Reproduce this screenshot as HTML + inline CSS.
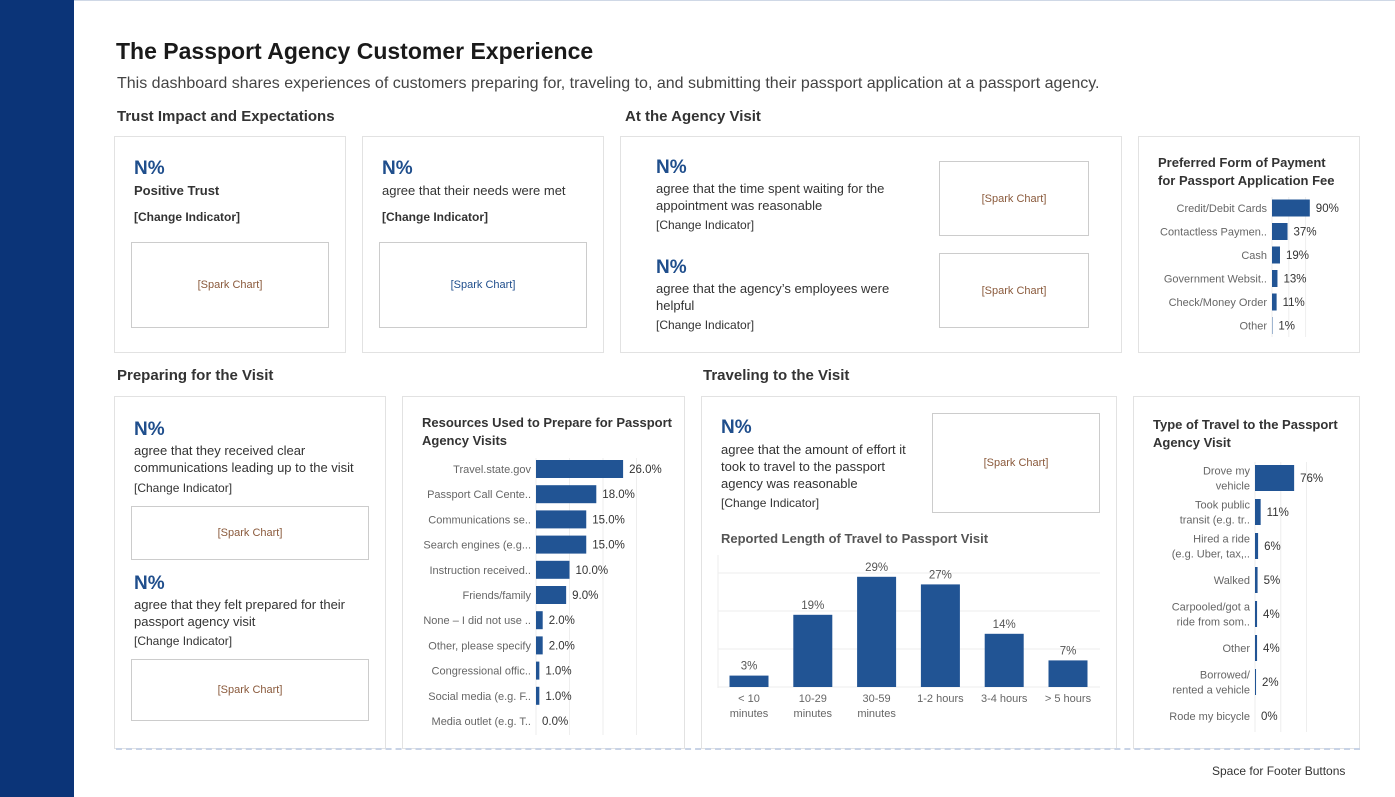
<!DOCTYPE html>
<html><head><meta charset="utf-8"><style>
*{box-sizing:border-box;margin:0;padding:0}
body{width:1395px;height:797px;background:#fff;font-family:"Liberation Sans",sans-serif;position:relative;overflow:hidden;color:#333}
.abs{position:absolute}
.card{position:absolute;border:1px solid #e2e2e2;background:#fff}
.sec{position:absolute;font-size:15px;font-weight:bold;color:#333}
.big{position:absolute;font-size:19px;font-weight:bold;color:#1f4e8c}
.txt{position:absolute;font-size:13px;color:#333;line-height:17px}
.ci{position:absolute;font-size:12px;color:#333}
.spark{position:absolute;border:1px solid #ccc;font-size:11px;color:#8a5a3c;display:flex;align-items:center;justify-content:center}
.ctitle{position:absolute;font-size:13px;font-weight:bold;color:#333;line-height:18px}
svg text{font-family:"Liberation Sans",sans-serif}
#paySvg{z-index:5;pointer-events:none}
</style></head><body>
<div class="abs" style="left:0;top:0;width:74px;height:797px;background:#0b3478"></div>
<div class="abs" style="left:74px;top:0;width:1321px;height:1px;background:#cfd8e6"></div>
<div class="abs" style="left:116px;top:38px;font-size:23px;font-weight:bold;color:#1a1a1a">The Passport Agency Customer Experience</div>
<div class="abs" style="left:117px;top:75px;font-size:16px;color:#444">This dashboard shares experiences of customers preparing for, traveling to, and submitting their passport application at a passport agency.</div>

<div class="sec" style="left:117px;top:108px">Trust Impact and Expectations</div>
<div class="sec" style="left:625px;top:108px">At the Agency Visit</div>
<div class="sec" style="left:117px;top:367px">Preparing for the Visit</div>
<div class="sec" style="left:703px;top:367px">Traveling to the Visit</div>

<div class="card" style="left:114px;top:136px;width:232px;height:217px"></div>
<div class="big" style="left:134px;top:158px">N%</div>
<div class="txt" style="left:134px;top:182px;font-weight:bold">Positive Trust</div>
<div class="ci" style="left:134px;top:210px;font-weight:bold">[Change Indicator]</div>
<div class="spark" style="left:131px;top:242px;width:198px;height:86px">[Spark Chart]</div>

<div class="card" style="left:362px;top:136px;width:242px;height:217px"></div>
<div class="big" style="left:382px;top:158px">N%</div>
<div class="txt" style="left:382px;top:182px">agree that their needs were met</div>
<div class="ci" style="left:382px;top:210px;font-weight:bold">[Change Indicator]</div>
<div class="spark" style="left:379px;top:242px;width:208px;height:86px;color:#1f4e8c">[Spark Chart]</div>

<div class="card" style="left:620px;top:136px;width:502px;height:217px"></div>
<div class="big" style="left:656px;top:157px">N%</div>
<div class="txt" style="left:656px;top:180px;width:270px">agree that the time spent waiting for the appointment was reasonable</div>
<div class="ci" style="left:656px;top:218px">[Change Indicator]</div>
<div class="spark" style="left:939px;top:161px;width:150px;height:75px">[Spark Chart]</div>
<div class="big" style="left:656px;top:257px">N%</div>
<div class="txt" style="left:656px;top:280px;width:270px">agree that the agency’s employees were helpful</div>
<div class="ci" style="left:656px;top:318px">[Change Indicator]</div>
<div class="spark" style="left:939px;top:253px;width:150px;height:75px">[Spark Chart]</div>

<div class="card" style="left:1138px;top:136px;width:222px;height:217px"></div>
<div class="ctitle" style="left:1158px;top:154px">Preferred Form of Payment<br>for Passport Application Fee</div>

<div class="card" style="left:114px;top:396px;width:272px;height:353px"></div>
<div class="big" style="left:134px;top:419px">N%</div>
<div class="txt" style="left:134px;top:442px;width:240px">agree that they received clear communications leading up to the visit</div>
<div class="ci" style="left:134px;top:481px">[Change Indicator]</div>
<div class="spark" style="left:131px;top:506px;width:238px;height:54px">[Spark Chart]</div>
<div class="big" style="left:134px;top:573px">N%</div>
<div class="txt" style="left:134px;top:596px;width:240px">agree that they felt prepared for their passport agency visit</div>
<div class="ci" style="left:134px;top:634px">[Change Indicator]</div>
<div class="spark" style="left:131px;top:659px;width:238px;height:62px">[Spark Chart]</div>

<div class="card" style="left:402px;top:396px;width:283px;height:353px"></div>
<div class="ctitle" style="left:422px;top:414px">Resources Used to Prepare for Passport<br>Agency Visits</div>

<div class="card" style="left:701px;top:396px;width:416px;height:353px"></div>
<div class="big" style="left:721px;top:417px">N%</div>
<div class="txt" style="left:721px;top:441px;width:205px">agree that the amount of effort it took to travel to the passport agency was reasonable</div>
<div class="ci" style="left:721px;top:496px">[Change Indicator]</div>
<div class="spark" style="left:932px;top:413px;width:168px;height:100px">[Spark Chart]</div>
<div class="ctitle" style="left:721px;top:530px;color:#555">Reported Length of Travel to Passport Visit</div>

<div class="card" style="left:1133px;top:396px;width:227px;height:353px"></div>
<div class="ctitle" style="left:1153px;top:416px">Type of Travel to the Passport<br>Agency Visit</div>

<div class="abs" style="left:116px;top:748px;width:1244px;border-top:2px dashed #c8d3e6;z-index:3"></div>
<div class="abs" style="left:1212px;top:764px;font-size:12px;color:#333">Space for Footer Buttons</div>

<svg class="abs" style="left:0;top:0" width="1395" height="797" id="paySvg"></svg>

<script>
const payCats=["Credit/Debit Cards","Contactless Paymen..","Cash","Government Websit..","Check/Money Order","Other"];
const payVals=[90,37,19,13,11,1];
const resCats=["Travel.state.gov","Passport Call Cente..","Communications se..","Search engines (e.g...","Instruction received..","Friends/family","None – I did not use ..","Other, please specify","Congressional offic..","Social media (e.g. F..","Media outlet (e.g. T.."];
const resVals=[26,18,15,15,10,9,2,2,1,1,0];
const lenCats=[["< 10","minutes"],["10-29","minutes"],["30-59","minutes"],["1-2 hours"],["3-4 hours"],["> 5 hours"]];
const lenVals=[3,19,29,27,14,7];
const typeCats=[["Drove my","vehicle"],["Took public","transit (e.g. tr.."],["Hired a ride","(e.g. Uber, tax,.."],["Walked"],["Carpooled/got a","ride from som.."],["Other"],["Borrowed/","rented a vehicle"],["Rode my bicycle"]];
const typeVals=[76,11,6,5,4,4,2,0];

const svg=document.getElementById('paySvg');
const NS='http://www.w3.org/2000/svg';
function mk(tag,attrs){const e=document.createElementNS(NS,tag);for(const k in attrs)e.setAttribute(k,attrs[k]);svg.appendChild(e);return e;}
function txt(x,y,s,anchor,size,fill){const t=mk('text',{x:x,y:y,'text-anchor':anchor,'font-size':size,fill:fill});t.textContent=s;return t;}
const BLUE='#215494';

function hbar(cats,vals,x0,pxPer,y0,pitch,bh,grid,name,fmt,gridTop,gridBot,lblSize){
  grid.forEach(g=>{const l=mk('line',{x1:x0+g*pxPer,x2:x0+g*pxPer,y1:gridTop,y2:gridBot,stroke:'#eee','stroke-width':1});
    
    });
  cats.forEach((c,i)=>{
    const cy=y0+i*pitch;
    const w=vals[i]*pxPer;
    const r=mk('rect',{x:x0,y:cy-bh/2,width:Math.max(w,0),height:bh,fill:BLUE});
    
    
    const lines=Array.isArray(c)?c:[c];
    lines.forEach((ln,j)=>{const t=txt(x0-5,cy+4+(j-(lines.length-1)/2)*15,ln,'end',lblSize,'#666');
      
      });
    const v=txt(x0+w+6,cy+4,fmt(vals[i]),'start',11.5,'#333');
    
    
  });
}
hbar(payCats,payVals,1272,0.42,208,23.5,17,[0,40,80],'payment',v=>v+'%',197,337,11);
hbar(resCats,resVals,536,3.35,469,25.2,18,[0,10,20,30],'resources',v=>v.toFixed(1)+'%',458,735,11);
hbar(typeCats,typeVals,1255,0.515,478,34,26,[0,50,100],'travel-type',v=>v+'%',462,732,11);

const base=687, per=3.8, cx0=749, cpitch=63.8, cw=39;
[0,10,20,30].forEach(g=>{const l=mk('line',{x1:718,x2:1100,y1:base-g*per,y2:base-g*per,stroke:'#eee','stroke-width':1});
  
  });
mk('line',{x1:718,x2:718,y1:555,y2:688,stroke:'#eee'});
lenCats.forEach((c,i)=>{
  const cx=cx0+i*cpitch;const h=lenVals[i]*per;
  const r=mk('rect',{x:cx-cw/2,y:base-h,width:cw,height:h,fill:BLUE});
  
  
  const v=txt(cx,base-h-6,lenVals[i]+'%','middle',11.5,'#555');
  
  
  c.forEach((ln,j)=>{const t=txt(cx,base+15+j*15,ln,'middle',11,'#666');
    
    });
});
</script>
</body></html>
